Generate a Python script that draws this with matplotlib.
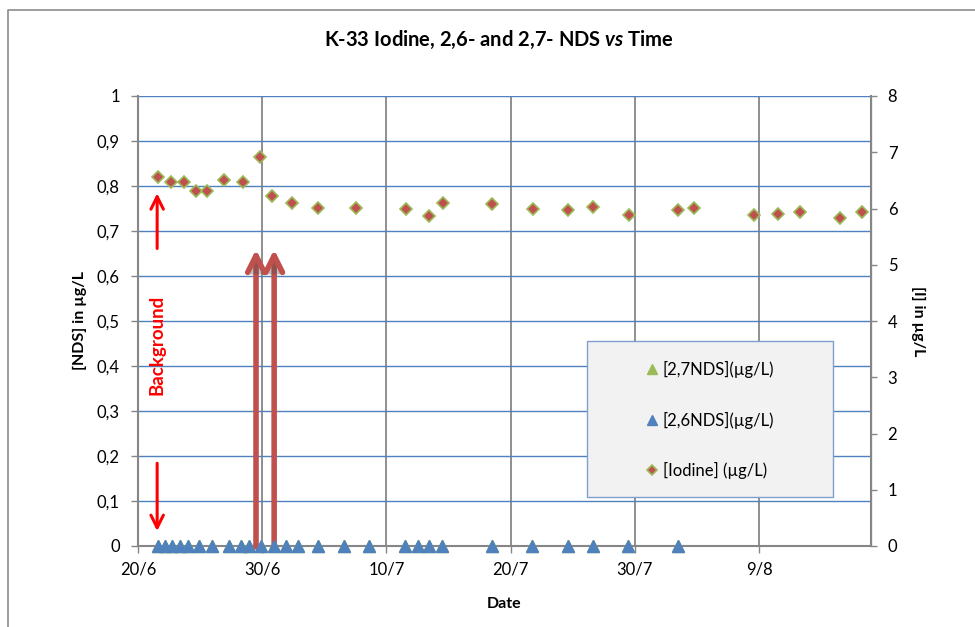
import matplotlib
matplotlib.use("Agg")
import matplotlib.pyplot as plt
import matplotlib.patheffects as pe
from matplotlib.lines import Line2D
from matplotlib.patches import Rectangle
from matplotlib.ticker import FuncFormatter
import pandas as pd

plt.rcParams['font.family'] = ['Lato', 'DejaVu Sans']
plt.rcParams['mathtext.fontset'] = 'custom'
plt.rcParams['mathtext.it'] = 'Lato:italic:bold'
plt.rcParams['mathtext.rm'] = 'Lato:bold'

# sampling dates of the NDS tracers (both series share the same samples)
nds_dates = ["2010-06-21 14:00", "2010-06-22 05:00", "2010-06-22 17:00", "2010-06-23 10:00",
             "2010-06-24 00:00", "2010-06-24 22:00", "2010-06-25 22:00", "2010-06-27 07:00",
             "2010-06-28 07:00", "2010-06-28 22:00", "2010-06-29 22:00", "2010-06-30 22:00",
             "2010-07-01 22:00", "2010-07-02 22:00", "2010-07-04 12:00", "2010-07-06 14:00",
             "2010-07-08 14:00", "2010-07-11 12:00", "2010-07-12 12:00", "2010-07-13 10:00",
             "2010-07-14 12:00", "2010-07-18 12:00", "2010-07-21 17:00", "2010-07-24 14:00",
             "2010-07-26 14:00", "2010-07-29 10:00", "2010-08-02 12:00"]
nds27 = [0, 0, 0, 0, 0, 0, 0, 0, 0, 0, 0, 0, 0, 0, 0, 0, 0, 0, 0, 0, 0, 0, 0, 0, 0, 0, 0]
nds26 = [0, 0, 0, 0, 0, 0, 0, 0, 0, 0, 0, 0, 0, 0, 0, 0, 0, 0, 0, 0, 0, 0, 0, 0, 0, 0, 0]

iodine_dates = ["2010-06-21 14:00", "2010-06-22 16:00", "2010-06-23 17:00", "2010-06-24 16:00",
                "2010-06-25 14:00", "2010-06-26 22:00", "2010-06-28 10:00", "2010-06-29 19:00",
                "2010-06-30 19:00", "2010-07-02 10:00", "2010-07-04 12:00", "2010-07-07 14:00",
                "2010-07-11 14:00", "2010-07-13 10:00", "2010-07-14 13:00", "2010-07-18 12:00",
                "2010-07-21 19:00", "2010-07-24 14:00", "2010-07-26 14:00", "2010-07-29 12:00",
                "2010-08-02 12:00", "2010-08-03 19:00", "2010-08-08 14:00", "2010-08-10 12:00",
                "2010-08-12 07:00", "2010-08-15 12:00", "2010-08-17 07:00"]
iodine = [6.56, 6.47, 6.47, 6.32, 6.32, 6.50, 6.48, 6.92, 6.22, 6.10, 6.01, 6.01, 6.00, 5.86,
          6.09, 6.08, 5.99, 5.97, 6.03, 5.88, 5.97, 6.01, 5.88, 5.90, 5.93, 5.83, 5.93]

x_ticks = ["2010-06-20", "2010-06-30", "2010-07-10", "2010-07-20", "2010-07-30", "2010-08-09"]
x_labels = ["20/6", "30/6", "10/7", "20/7", "30/7", "9/8"]
x_start, x_end = "2010-06-20", "2010-08-18"

# injection arrows and background marker
injections = ["2010-06-29 12:00", "2010-06-30 23:00"]
background_date = "2010-06-21 13:00"

nds_t = pd.to_datetime(nds_dates)
iod_t = pd.to_datetime(iodine_dates)

fig = plt.figure(figsize=(9.75, 6.27), dpi=100)
ax = fig.add_axes([138 / 975, 81 / 627, 733 / 975, 450 / 627])
ax2 = ax.twinx()

grey = '#868686'
blue = '#4F81BD'

ax.set_xlim(pd.Timestamp(x_start), pd.Timestamp(x_end))
ax.set_ylim(0, 1)
ax.set_xticks(pd.to_datetime(x_ticks))
ax.set_xticklabels(x_labels)
ax.set_yticks([i / 10 for i in range(11)])
ax.yaxis.set_major_formatter(FuncFormatter(lambda v, p: f"{v:.1f}".replace('.', ',').replace(',0', '')))
ax.set_axisbelow(True)
ax.grid(axis='y', color=blue, lw=1)
ax.grid(axis='x', color=grey, lw=1.3)
ax.spines['top'].set_visible(False)
for s in ['left', 'bottom']:
    ax.spines[s].set_color(grey)
    ax.spines[s].set_linewidth(1.5)
ax.tick_params(axis='y', direction='out', length=5, width=1, color=grey, labelsize=12, pad=8)
ax.tick_params(axis='x', direction='out', length=5, width=1, color=grey, labelsize=12, pad=6)

ax2.set_ylim(0, 8)
ax2.set_yticks(range(9))
for s in ['top', 'left', 'bottom']:
    ax2.spines[s].set_visible(False)
ax2.spines['right'].set_color(grey)
ax2.spines['right'].set_linewidth(1.5)
ax2.tick_params(axis='y', direction='out', length=4, width=1, color=grey, labelsize=12, pad=8)

ax.plot(nds_t, nds27, ls='none', marker='^', ms=9, color='#9BBB59', clip_on=False,
        zorder=3, label='[2,7NDS](µg/L)')
ax.plot(nds_t, nds26, ls='none', marker='^', ms=9, color=blue, clip_on=False,
        zorder=4, label='[2,6NDS](µg/L)')
ax2.plot(iod_t, iodine, ls='none', marker='D', ms=5.8, markerfacecolor='#C0504D',
         markeredgecolor='#9BBB59', markeredgewidth=1.2, clip_on=False, zorder=3,
         label='[Iodine] (µg/L)')

# red "background" arrows
bg = pd.Timestamp(background_date)
ax.annotate('', xy=(bg, 0.79), xytext=(bg, 0.655),
            arrowprops=dict(arrowstyle='->, head_length=0.9, head_width=0.45', color='red', lw=2.2))
ax.annotate('', xy=(bg, 0.027), xytext=(bg, 0.19),
            arrowprops=dict(arrowstyle='->, head_length=0.9, head_width=0.45', color='red', lw=2.2))
ax.text(bg, 0.447, 'Background', rotation=90, color='red', fontsize=13.5, fontweight='bold',
        ha='center', va='center')

# injection arrows
for d in injections:
    ax.annotate('', xy=(pd.Timestamp(d), 0.665), xytext=(pd.Timestamp(d), -0.008),
                annotation_clip=False,
                arrowprops=dict(arrowstyle='->, head_length=1.2, head_width=0.6', color='#C0504D', lw=4,
                                path_effects=[pe.SimplePatchShadow(offset=(1.5, -1.5), alpha=0.35),
                                              pe.Normal()]))

ax.set_xlabel('Date', fontsize=11.5, fontweight='bold', labelpad=14)
ax.set_ylabel('[NDS] in µg/L', fontsize=11.5, fontweight='bold', labelpad=7)
ax2.set_ylabel('[I] in µg/L', fontsize=11.5, fontweight='bold', rotation=270, labelpad=20)

fig.text(0.512, 1 - 40 / 627, 'K-33 Iodine, 2,6- and 2,7- NDS $vs$ Time', fontsize=14.5,
         fontweight='bold', ha='center', va='center')

# legend box
fig.patches.append(Rectangle((587 / 975, 1 - 497 / 627), 246 / 975, 156 / 627,
                             transform=fig.transFigure, facecolor='#F2F2F2',
                             edgecolor='#7F9FCF', lw=1, zorder=2))
handles = ax.get_legend_handles_labels()[0] + ax2.get_legend_handles_labels()[0]
labels = ax.get_legend_handles_labels()[1] + ax2.get_legend_handles_labels()[1]
leg = fig.legend(handles, labels, loc='center', bbox_to_anchor=(710 / 975, 1 - 420 / 627),
                 frameon=False, fontsize=12, labelspacing=2.0, handlelength=0.7,
                 handletextpad=0.3, markerscale=0.85)
leg.set_zorder(3)

# outer chart border
fig.add_artist(Line2D([8 / 975, 8 / 975, 1], [0, 1 - 10 / 627, 1 - 10 / 627],
                      transform=fig.transFigure, color='#8C8C8C', lw=1.2))

fig.savefig('out.png', dpi=100)
